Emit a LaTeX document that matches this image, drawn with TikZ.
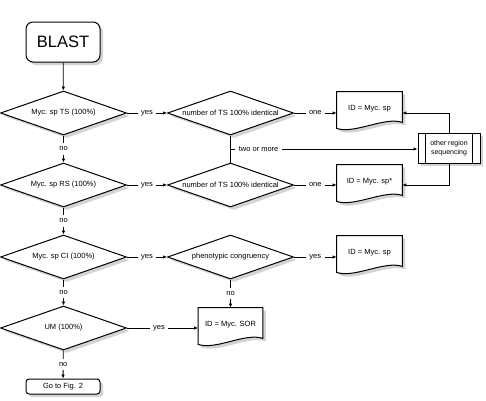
\documentclass[tikz,border=0pt]{standalone}
\usepackage{fontspec}
\setmainfont{Liberation Sans}
\usetikzlibrary{shapes.geometric,shadows,arrows.meta,backgrounds}

\tikzset{
  shd/.style={drop shadow={shadow xshift=3pt,shadow yshift=-3pt,opacity=0.35}},
  decision/.style={diamond,draw,fill=white,shd,line width=1pt,inner sep=0pt,aspect=2.9,minimum width=126,minimum height=44},
  doc/.style={minimum width=65,minimum height=34,inner sep=0pt},
  lbl/.style={fill=white,inner sep=3.5pt},
  seqbox/.style={draw,fill=white,shd,line width=1pt,minimum width=62,minimum height=30,inner sep=0pt,align=center,font=\fontsize{7}{9.5}\selectfont},
  endbox/.style={draw,fill=white,shd,line width=1pt,minimum width=74,inner sep=0pt}
}
\newcommand{\docframe}[1]{\begin{scope}[on background layer]
  \draw[fill=white,shd,line width=1pt] (#1.north west) -- (#1.north east) -- ([yshift=4pt]#1.south east) .. controls +(-18pt,6pt) and +(18pt,-6pt) .. ([yshift=-2pt]#1.south west) -- cycle;
\end{scope}}

\begin{document}
\begin{tikzpicture}[x=1pt,y=-1pt,font=\fontsize{7.5}{9}\selectfont,>={Latex[length=4pt,width=3.5pt]},line width=0.8pt]
  \useasboundingbox (0,0) rectangle (486,400);
  \node[endbox,rounded corners=7pt,minimum height=40,font=\fontsize{16.5}{18}\selectfont] (blast) at (63,42) {BLAST};
  \node[decision] (ts) at (63.5,113) {Myc. sp TS (100\%)};
  \node[decision] (rs) at (63.5,185) {Myc. sp RS (100\%)};
  \node[decision] (ci) at (63.5,257) {Myc. sp CI (100\%)};
  \node[decision] (um) at (63.5,328) {UM (100\%)};
  \node[endbox,rounded corners=3pt,minimum height=15] (go) at (63,386.5) {Go to Fig. 2};
  \node[decision] (ntsa) at (230.5,113) {number of TS 100\% identical};
  \node[decision] (ntsb) at (230.5,185) {number of TS 100\% identical};
  \node[decision] (pheno) at (230.5,257) {phenotypic congruency};
  \node[doc] (doc1) at (369.5,109) {ID = Myc. sp};
  \node[doc] (doc2) at (369.5,182) {ID = Myc. sp*};
  \node[doc] (doc3) at (369.5,253) {ID = Myc. sp};
  \node[doc,minimum width=64] (sor) at (230.5,325) {ID = Myc. SOR};
  \docframe{doc1}
  \docframe{doc2}
  \docframe{doc3}
  \docframe{sor}
  \node[seqbox] (seq) at (449,148) {other region\\sequencing};
  \draw[line width=1pt] ([xshift=8pt]seq.north west) -- ([xshift=8pt]seq.south west) ([xshift=-8pt]seq.north east) -- ([xshift=-8pt]seq.south east);
  \coordinate (split) at (230.5,149);
  \draw[->] (blast) -- (ts);
  \draw[->] (ts) -- node[lbl]{no} (rs);
  \draw[->] (rs) -- node[lbl]{no} (ci);
  \draw[->] (ci) -- node[lbl]{no} (um);
  \draw[->] (um) -- node[lbl]{no} (go);
  \draw[->] (ts) -- node[lbl]{yes} (ntsa);
  \draw[->] (rs) -- node[lbl]{yes} (ntsb);
  \draw[->] (ci) -- node[lbl]{yes} (pheno);
  \draw[->] (um) -- node[lbl,pos=0.45]{yes} (um -| sor.west);
  \draw[->] (ntsa) -- node[lbl]{one} (ntsa -| doc1.west);
  \draw[->] (ntsb) -- node[lbl]{one} (ntsb -| doc2.west);
  \draw[->] (pheno) -- node[lbl]{yes} (pheno -| doc3.west);
  \draw[->] (pheno) -- node[lbl]{no} (sor);
  \draw (ntsa) -- (ntsb);
  \draw[->] (split) -- node[lbl,pos=0.15]{two or more} (split -| seq.west);
  \draw[->] (seq.north) |- (ntsa -| doc1.east);
  \draw[->] (seq.south) |- (ntsb -| doc2.east);
\end{tikzpicture}
\end{document}
